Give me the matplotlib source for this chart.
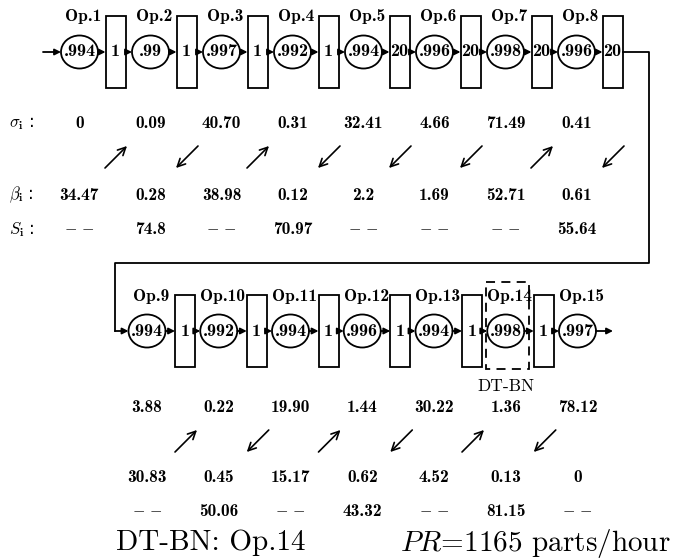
import matplotlib.pyplot as plt
from matplotlib.patches import Ellipse, Rectangle

plt.rcParams['mathtext.fontset'] = 'cm'

# first line: Op.1 .. Op.8
reliab_1 = ['.994', '.99', '.997', '.992', '.994', '.996', '.998', '.996']
buffers_1 = ['1', '1', '1', '1', '20', '20', '20', '20']
sigma_1 = ['0', '0.09', '40.70', '0.31', '32.41', '4.66', '71.49', '0.41']
beta_1 = ['34.47', '0.28', '38.98', '0.12', '2.2', '1.69', '52.71', '0.61']
s_1 = ['--', '74.8', '--', '70.97', '--', '--', '--', '55.64']
arrows_1 = ['up', 'down', 'up', 'down', 'down', 'down', 'up', 'down']

# second line: Op.9 .. Op.15
reliab_2 = ['.994', '.992', '.994', '.996', '.994', '.998', '.997']
buffers_2 = ['1', '1', '1', '1', '1', '1']
sigma_2 = ['3.88', '0.22', '19.90', '1.44', '30.22', '1.36', '78.12']
beta_2 = ['30.83', '0.45', '15.17', '0.62', '4.52', '0.13', '0']
s_2 = ['--', '50.06', '--', '43.32', '--', '81.15', '--']
arrows_2 = ['up', 'down', 'up', 'down', 'up', 'down']

bottleneck = 14
prod_rate = 1165

BOLD = 'cmb10'
LW = 1.3


def flow_arrow(ax, x0, x1, y):
    ax.annotate('', xy=(x1, y), xytext=(x0, y),
                arrowprops=dict(arrowstyle='-|>', lw=LW, color='black',
                                mutation_scale=9, shrinkA=0, shrinkB=0))


def draw_line(ax, reliab, buffers, first_op, x0, step, y, box_off):
    centers = []
    for i, r in enumerate(reliab):
        cx = x0 + step * i
        centers.append(cx)
        ax.add_patch(Ellipse((cx, y), 37, 33, fill=False, lw=LW))
        ax.text(cx, y, r, family=BOLD, fontsize=13, ha='center', va='center')
        ax.text(cx + 4, y - 35, 'Op.%d' % (first_op + i), family=BOLD,
                fontsize=12.5, ha='center', va='center')
        if i < len(buffers):
            bx = cx + box_off
            ax.add_patch(Rectangle((bx, y - 36), 20, 72, fill=False, lw=LW))
            ax.text(bx + 10, y, buffers[i], family=BOLD, fontsize=13,
                    ha='center', va='center')
            flow_arrow(ax, cx + 18.5, bx, y)
            if i + 1 < len(reliab):
                flow_arrow(ax, bx + 20, cx + step - 18.5, y)
    return centers


def draw_values(ax, rows, arrows, xs, a_off, ys, ay, fs):
    for vals, yy in zip(rows, ys):
        for x, v in zip(xs, vals):
            if v == '--':
                ax.text(x, yy, r'$-$ $-$', fontsize=fs - 1, ha='center', va='center')
            else:
                ax.text(x, yy, v, family=BOLD, fontsize=fs, ha='center', va='center')
    for x0, d in zip(xs, arrows):
        x = x0 + a_off
        if d == 'up':
            tail, head = (x - 11, ay + 11), (x + 11, ay - 11)
        else:
            tail, head = (x + 11, ay - 11), (x - 11, ay + 11)
        ax.annotate('', xy=head, xytext=tail,
                    arrowprops=dict(arrowstyle='->', lw=1.2, color='black',
                                    mutation_scale=14, shrinkA=0, shrinkB=0))


fig = plt.figure(figsize=(6.74, 5.6), dpi=100)
ax = fig.add_axes([0, 0, 1, 1])
ax.set_xlim(0, 674)
ax.set_ylim(560, 0)
ax.axis('off')

# first line
y1 = 52
c1 = draw_line(ax, reliab_1, buffers_1, 1, 79.5, 71.0, y1, 26)
flow_arrow(ax, 43, c1[0] - 18.5, y1)
last_box = c1[-1] + 26 + 20
ax.plot([last_box, 649, 649, 115, 115], [y1, y1, 263, 263, 331],
        color='black', lw=LW)

# second line
y2 = 331
c2 = draw_line(ax, reliab_2, buffers_2, 9, 147, 71.75, y2, 28)
flow_arrow(ax, 115, c2[0] - 18.5, y2)
flow_arrow(ax, c2[-1] + 18.5, 613, y2)

# bottleneck marker
bx = c2[bottleneck - 9]
ax.add_patch(Rectangle((bx - 19.5, 282), 43, 87, fill=False, lw=LW,
                       ls=(0, (5, 3.5))))
ax.text(bx, 386, 'DT-BN', family='cmr10', fontsize=12.5, ha='center', va='center')

# value tables
for lab, yy in zip([r'$\sigma_{\mathbf{i}}$ :', r'$\beta_{\mathbf{i}}$ :', r'$S_{\mathbf{i}}$ :'],
                   [123, 195, 230]):
    ax.text(9, yy, lab, fontsize=12, ha='left', va='center')

draw_values(ax, [sigma_1, beta_1, s_1], arrows_1, c1, 36.5,
            [123, 195, 230], 157, 12.5)
draw_values(ax, [sigma_2, beta_2, s_2], arrows_2, c2, 39,
            [407, 477, 512], 441, 12.5)

ax.text(116, 543, 'DT-BN: Op.14', family='cmr10', fontsize=21, ha='left', va='center')
ax.text(400, 543, r'$PR$=%d parts/hour' % prod_rate, family='cmr10', fontsize=21,
        ha='left', va='center')

fig.savefig('out.png', dpi=100)
